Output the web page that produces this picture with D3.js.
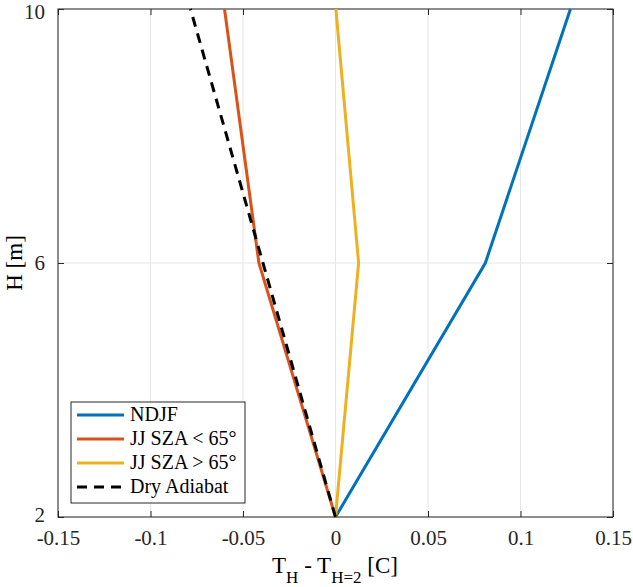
<!DOCTYPE html>
<html><head><meta charset="utf-8">
<script src="https://cdn.jsdelivr.net/npm/d3@7"></script>
<style>body{margin:0;background:#fff;}</style>
</head><body>
<svg id="chart" width="633" height="587" font-family="Liberation Serif, DejaVu Serif, serif"></svg>
<script>
const heights = [2, 6, 10];
const ndjf = [0, 0.081, 0.127];
const jjLow = [0, -0.0414, -0.0600];
const jjHigh = [0, 0.0125, 0.0002];
const dryAdiabat = [0, -0.0392, -0.0784];
const seriesNames = ["NDJF", "JJ SZA < 65°", "JJ SZA > 65°", "Dry Adiabat"];
const seriesColors = ["#0072BD", "#D95319", "#EDB120", "#000000"];
const xTicks = [-0.15, -0.1, -0.05, 0, 0.05, 0.1, 0.15];
const xTickLabels = ["-0.15", "-0.1", "-0.05", "0", "0.05", "0.1", "0.15"];
const yTicks = [2, 6, 10];

const FONT = "Liberation Serif, DejaVu Serif, serif";
const svg = d3.select("#chart");
const L = 58, R = 613, T = 9, B = 517;
const x = d3.scaleLinear().domain([-0.15, 0.15]).range([L, R]);
const y = d3.scaleLinear().domain([2, 10]).range([B, T]);

// grid
svg.append("g").selectAll("line").data(xTicks).join("line")
  .attr("x1", d => x(d)).attr("x2", d => x(d)).attr("y1", T).attr("y2", B)
  .attr("stroke", "#e6e6e6").attr("stroke-width", 1);
svg.append("g").selectAll("line").data(yTicks).join("line")
  .attr("y1", d => y(d)).attr("y2", d => y(d)).attr("x1", L).attr("x2", R)
  .attr("stroke", "#e6e6e6").attr("stroke-width", 1);

// axes
const fmtX = (d, i) => xTickLabels[i];
const gx = svg.append("g").attr("transform", `translate(0,${B})`)
  .call(d3.axisBottom(x).tickValues(xTicks).tickFormat(fmtX).tickSize(-6).tickPadding(13));
const gxt = svg.append("g").attr("transform", `translate(0,${T})`)
  .call(d3.axisTop(x).tickValues(xTicks).tickFormat("").tickSize(-6));
const gy = svg.append("g").attr("transform", `translate(${L},0)`)
  .call(d3.axisLeft(y).tickValues(yTicks).tickFormat(d3.format("d")).tickSize(-6).tickPadding(13));
const gyr = svg.append("g").attr("transform", `translate(${R},0)`)
  .call(d3.axisRight(y).tickValues(yTicks).tickFormat("").tickSize(-6));
[gx, gxt, gy, gyr].forEach(g => {
  g.attr("font-family", FONT).attr("font-size", 21);
  g.select(".domain").remove();
  g.selectAll(".tick line").attr("stroke", "#262626");
  g.selectAll("text").attr("fill", "#262626").attr("font-family", FONT).attr("font-size", 21);
});
gy.selectAll(".tick text").filter(d => d === 10).attr("dy", "0.45em");
gy.selectAll(".tick text").filter(d => d === 2).attr("dy", "0.2em");
svg.append("rect").attr("x", L).attr("y", T).attr("width", R - L).attr("height", B - T)
  .attr("fill", "none").attr("stroke", "#262626").attr("stroke-width", 1);

// lines
const allSeries = [ndjf, jjLow, jjHigh, dryAdiabat];
const line = d3.line().x(d => x(d[0])).y(d => y(d[1]));
allSeries.forEach((s, i) => {
  const pts = s.map((v, j) => [v, heights[j]]);
  svg.append("path").attr("d", line(pts)).attr("fill", "none")
    .attr("stroke", seriesColors[i]).attr("stroke-width", 3)
    .attr("stroke-dasharray", i === 3 ? "10,7" : null);
});

// legend
const lg = svg.append("g").attr("font-family", FONT);
lg.append("rect").attr("x", 71).attr("y", 402).attr("width", 174).attr("height", 101)
  .attr("fill", "#fff").attr("stroke", "#262626").attr("stroke-width", 1);
seriesNames.forEach((n, i) => {
  const yy = 415 + i * 24;
  lg.append("line").attr("x1", 77).attr("x2", 124).attr("y1", yy).attr("y2", yy)
    .attr("stroke", seriesColors[i]).attr("stroke-width", 3)
    .attr("stroke-dasharray", i === 3 ? "10,7" : null);
  lg.append("text").attr("x", 130).attr("y", yy + 6).text(n)
    .attr("font-family", FONT).attr("font-size", 20).attr("fill", "#000");
});

// axis labels
const xl = svg.append("text").attr("x", 335).attr("y", 573).attr("text-anchor", "middle")
  .attr("font-family", FONT).attr("font-size", 23).attr("fill", "#000");
xl.append("tspan").text("T");
xl.append("tspan").text("H").attr("dy", 10).attr("font-size", 17);
xl.append("tspan").text(" - T").attr("dy", -10);
xl.append("tspan").text("H=2").attr("dy", 10).attr("font-size", 17);
xl.append("tspan").text(" [C]").attr("dy", -10);

svg.append("text").attr("transform", `translate(22,${(T + B) / 2}) rotate(-90)`)
  .attr("text-anchor", "middle").attr("font-family", FONT).attr("font-size", 23)
  .attr("fill", "#000").text("H [m]");
</script>
</body></html>
